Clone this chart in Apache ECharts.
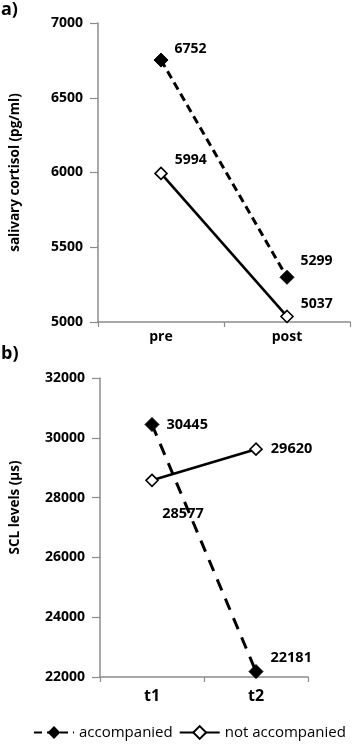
<!DOCTYPE html>
<html><head><meta charset="utf-8">
<script src="https://cdn.jsdelivr.net/npm/echarts@6/dist/echarts.min.js"></script>
<style>html,body{margin:0;padding:0;background:#fff}#c{width:358px;height:747px}</style>
</head><body><div id="c"></div>
<script>
// ---- data ----
const catsA = ['pre', 'post'];
const cortisolAccompanied = [6752, 5299];
const cortisolNotAccompanied = [5994, 5037];
const catsB = ['t1', 't2'];
const sclAccompanied = [30445, 22181];
const sclNotAccompanied = [28577, 29620];
const yTicksA = {min: 5000, max: 7000, interval: 500};
const yTicksB = {min: 22000, max: 32000, interval: 2000};
const seriesNames = ['accompanied', 'not accompanied'];

const FONT = '"Open Sans"';
const axisGray = '#8c8c8c';

function yAxisCfg(t, name, fs, gridIndex, nameGap, pad) {
  return {
    type: 'value', gridIndex, min: t.min, max: t.max, interval: t.interval,
    name, nameLocation: 'middle', nameGap, nameRotate: 90,
    nameTextStyle: {fontFamily: FONT, fontWeight: 'bold', fontSize: 13.5, color: '#000', padding: pad},
    axisLine: {show: true, lineStyle: {color: axisGray, width: 1.5}},
    axisTick: {show: true, length: 8, lineStyle: {color: axisGray, width: 1.2}},
    splitLine: {show: false},
    axisLabel: {fontFamily: FONT, fontWeight: 'bold', fontSize: fs, color: '#000', margin: 15,
      formatter: v => String(v)}
  };
}
function xAxisCfg(cats, fs, gridIndex, margin) {
  return {
    type: 'category', gridIndex, data: cats, boundaryGap: true,
    axisLine: {show: true, lineStyle: {color: axisGray, width: 1.5}},
    axisTick: {show: true, length: 5, lineStyle: {color: axisGray, width: 1.2}},
    splitLine: {show: false},
    axisLabel: {fontFamily: FONT, fontWeight: 'bold', fontSize: fs, color: '#000', margin}
  };
}
const lblBase = {show: true, fontFamily: FONT, fontWeight: 'bold', color: '#000'};

function accSeries(vals, xi, dash, labelFor) {
  return {
    name: seriesNames[0], type: 'line', xAxisIndex: xi, yAxisIndex: xi,
    data: vals.map((v, i) => ({value: v, label: labelFor(i)})),
    symbol: 'diamond', symbolSize: 14,
    itemStyle: {color: '#000', borderColor: '#000'},
    lineStyle: {color: '#000', width: 3, type: dash},
    label: Object.assign({}, lblBase), z: 3
  };
}
function notSeries(vals, xi, labelFor) {
  return {
    name: seriesNames[1], type: 'line', xAxisIndex: xi, yAxisIndex: xi,
    data: vals.map((v, i) => ({value: v, label: labelFor(i)})),
    symbol: 'diamond', symbolSize: 12,
    itemStyle: {color: '#fff', borderColor: '#000', borderWidth: 1.6},
    lineStyle: {color: '#000', width: 2.6, type: 'solid'},
    label: Object.assign({}, lblBase), z: 3
  };
}

const chart = echarts.init(document.getElementById('c'), null, {renderer: 'canvas'});
chart.setOption({
  animation: false,
  backgroundColor: '#fff',
  grid: [
    {left: 97, top: 23, width: 253, height: 299},
    {left: 98, top: 378, width: 210, height: 299}
  ],
  xAxis: [xAxisCfg(catsA, 14, 0, 8), xAxisCfg(catsB, 16, 1, 11)],
  yAxis: [
    yAxisCfg(yTicksA, 'salivary cortisol (pg/ml)', 14, 0, 76, [0, 0, 0, 0]),
    yAxisCfg(yTicksB, 'SCL levels (μs)', 14, 1, 78, [0, 0, 0, 40])
  ],
  legend: {
    left: 28, top: 720, itemWidth: 40, itemHeight: 16, itemGap: 6,
    data: seriesNames,
    textStyle: {fontFamily: FONT, fontSize: 15, color: '#000'}
  },
  graphic: [
    {type: 'text', left: 1, top: 1, style: {text: 'a)', font: 'bold 18px "Open Sans"', fill: '#000'}},
    {type: 'text', left: 1, top: 345, style: {text: 'b)', font: 'bold 18px "Open Sans"', fill: '#000'}}
  ],
  series: [
    accSeries(cortisolAccompanied, 0, [8, 5], i => ({fontSize: 14, position: 'right', distance: 6, offset: [0, i === 0 ? -11 : -16]})),
    notSeries(cortisolNotAccompanied, 0, i => ({fontSize: 14, position: 'right', distance: 7, offset: [0, i === 0 ? -13 : -12]})),
    accSeries(sclAccompanied, 1, [12, 9], i => ({fontSize: 14.5, position: 'right', distance: 7, offset: [0, i === 0 ? 0 : -14]})),
    notSeries(sclNotAccompanied, 1, i => (i === 0 ? {fontSize: 14.5, position: 'bottom', distance: 19, offset: [31, 0]} : {fontSize: 14.5, position: 'right', distance: 8, offset: [0, 0]}))
  ]
});
</script>
</body></html>
